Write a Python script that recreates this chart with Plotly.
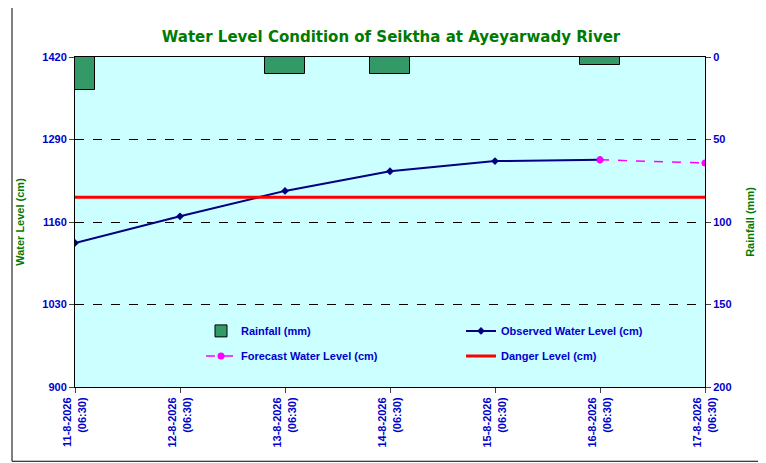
import plotly.graph_objects as go

dates = ['11-8-2026', '12-8-2026', '13-8-2026', '14-8-2026',
         '15-8-2026', '16-8-2026', '17-8-2026']
tick_labels = [d + '<br>(06:30)' for d in dates]
pos = list(range(len(dates)))

rainfall = [20, 0, 10, 10, 0, 5, 0]
observed = [1127, 1169, 1209, 1240, 1256, 1258]
forecast_x = [5, 6]
forecast = [1258, 1253]
danger = 1199

blue = '#0000cc'
green = '#007a00'
tf = dict(color=blue, size=11, family='Arial, Liberation Sans', weight='bold')

fig = go.Figure()

fig.add_trace(go.Bar(
    x=pos, y=rainfall, yaxis='y2', name='Rainfall (mm)', width=0.39,
    marker=dict(color='#339966', line=dict(color='black', width=1)),
    legend='legend'
))
fig.add_trace(go.Scatter(
    x=pos[:len(observed)], y=observed, mode='lines+markers',
    name='Observed Water Level (cm)',
    line=dict(color='#000080', width=2),
    marker=dict(symbol='diamond', size=6, color='#000080'),
    legend='legend'
))
fig.add_trace(go.Scatter(
    x=forecast_x, y=forecast, mode='lines+markers',
    name='Forecast Water Level (cm)',
    line=dict(color='#ff00ff', width=1.5, dash='dash'),
    marker=dict(symbol='circle', size=7, color='#ff00ff'),
    legend='legend2'
))
fig.add_trace(go.Scatter(
    x=[pos[0], pos[-1]], y=[danger, danger], mode='lines',
    name='Danger Level (cm)', line=dict(color='#ff0000', width=3),
    legend='legend2'
))

leg = dict(orientation='h', xanchor='left', yanchor='middle',
           entrywidth=215, entrywidthmode='pixels', bgcolor='rgba(0,0,0,0)',
           font=tf)

fig.update_layout(
    width=766, height=463,
    margin=dict(l=65, r=69, t=49, b=84),
    paper_bgcolor='white', plot_bgcolor='#ccffff',
    title=dict(text='<b>Water Level Condition of Seiktha at Ayeyarwady River</b>',
               x=0.5, xanchor='center', y=0.95,
               font=dict(family='Verdana, DejaVu Sans', size=15, color=green)),
    font=dict(family='Arial, Liberation Sans', size=11),
    bargap=0,
    legend=dict(leg, x=0.2, y=0.17),
    legend2=dict(leg, x=0.2, y=0.094),
    xaxis=dict(range=[0, 6], tickvals=pos, ticktext=tick_labels, tickangle=-90,
               showgrid=False, zeroline=False, ticks='outside', showline=True,
               linecolor='black', mirror=True, tickfont=tf),
    yaxis=dict(range=[900, 1420], tickvals=[900, 1030, 1160, 1290, 1420],
               title=dict(text='<b>Water Level (cm)</b>', font=dict(color=green, size=11)),
               showgrid=True, gridcolor='black', griddash='dash', gridwidth=0.6,
               zeroline=False, showline=True, linecolor='black', ticks='outside',
               tickfont=tf),
    yaxis2=dict(range=[200, 0], overlaying='y', side='right',
                tickvals=[0, 50, 100, 150, 200], showgrid=False, zeroline=False,
                title=dict(text='<b>Rainfall (mm)</b>', font=dict(color=green, size=11)),
                ticks='outside', showline=True, linecolor='black', tickfont=tf),
)

fig.add_shape(type='rect', xref='paper', yref='paper', x0=-0.1, x1=1.085,
              y0=-0.225, y1=1.15, line=dict(color='black', width=1))

fig.write_html("out.html")
